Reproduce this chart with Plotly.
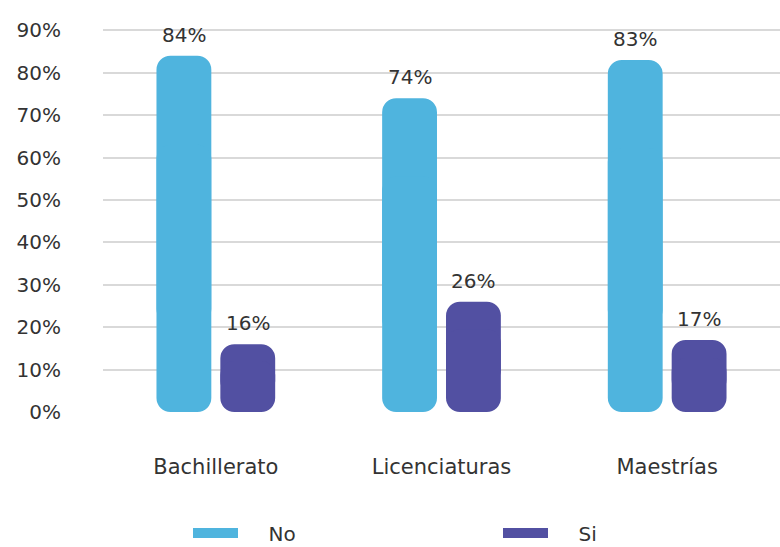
import plotly.graph_objects as go

# Survey results by education level (percent of respondents)
categories = ["Bachillerato", "Licenciaturas", "Maestrías"]
no_values = [84, 74, 83]
si_values = [16, 26, 17]
y_ticks = [0, 10, 20, 30, 40, 50, 60, 70, 80, 90]

NO_COLOR = "#4fb4de"
SI_COLOR = "#5250a2"
TEXT = "#333333"
FONT = "DejaVu Sans, sans-serif"

BAR_W = 0.243          # bar width in category units
OFFSETS = {"No": -0.263, "Si": 0.02}
LEGEND_PAD = "\u00a0" * 4   # gap between legend swatch and label

fig = go.Figure()


def add_pill_bars(name, values, color):
    """Each bar is two overlapping pieces so both ends come out rounded."""
    # upper piece: from a quarter of the value up to the value (rounded top)
    lo = [v * 0.25 for v in values]
    fig.add_trace(go.Bar(
        x=categories, y=[v - b for v, b in zip(values, lo)], base=lo, name=name,
        marker=dict(color=color, line=dict(width=0)),
        width=BAR_W, offset=OFFSETS[name], showlegend=False,
        legendgroup=name, hoverinfo="skip",
    ))
    # lower piece: from three quarters of the value down to zero (rounded bottom)
    hi = [v * 0.75 for v in values]
    fig.add_trace(go.Bar(
        x=categories, y=[-b for b in hi], base=hi, name=name,
        marker=dict(color=color, line=dict(width=0)),
        width=BAR_W, offset=OFFSETS[name], showlegend=False,
        legendgroup=name, hoverinfo="skip",
    ))
    # wide swatch for the legend entry
    fig.add_trace(go.Scatter(
        x=[None], y=[None], mode="lines", name=LEGEND_PAD + name,
        legendgroup=name, line=dict(color=color, width=15), showlegend=True,
    ))
    # value labels above each bar
    for i, v in enumerate(values):
        fig.add_annotation(
            x=i + OFFSETS[name] + BAR_W / 2, y=v, text=f"{v}%",
            showarrow=False, yanchor="bottom", yshift=7,
            font=dict(size=20, color=TEXT, family=FONT),
        )


add_pill_bars("No", no_values, NO_COLOR)
add_pill_bars("Si", si_values, SI_COLOR)

fig.update_layout(
    width=780, height=547,
    margin=dict(l=103, r=0, t=29, b=135),
    paper_bgcolor="white", plot_bgcolor="white",
    barmode="overlay", barcornerradius=14,
    font=dict(family=FONT, color=TEXT, size=20),
    showlegend=True,
    legend=dict(
        orientation="h", xref="container", yref="container",
        x=188 / 780, xanchor="left", y=1 - 533 / 547, yanchor="middle",
        itemwidth=45, entrywidth=250,
        font=dict(size=20, color=TEXT, family=FONT),
    ),
    xaxis=dict(
        type="category", showgrid=False, zeroline=False, showline=False,
        ticks="", ticklabelstandoff=40,
        tickfont=dict(size=21, color=TEXT, family=FONT),
        range=[-0.5, 2.5],
    ),
    yaxis=dict(
        range=[0, 90.3], tickvals=y_ticks, ticktext=[f"{t}%" for t in y_ticks],
        showgrid=True, gridcolor="#d9d9d9", gridwidth=1.5,
        zeroline=False, showline=False, ticks="", ticklabelstandoff=41,
        tickfont=dict(size=20, color=TEXT, family=FONT),
    ),
)

fig.write_html("out.html")
